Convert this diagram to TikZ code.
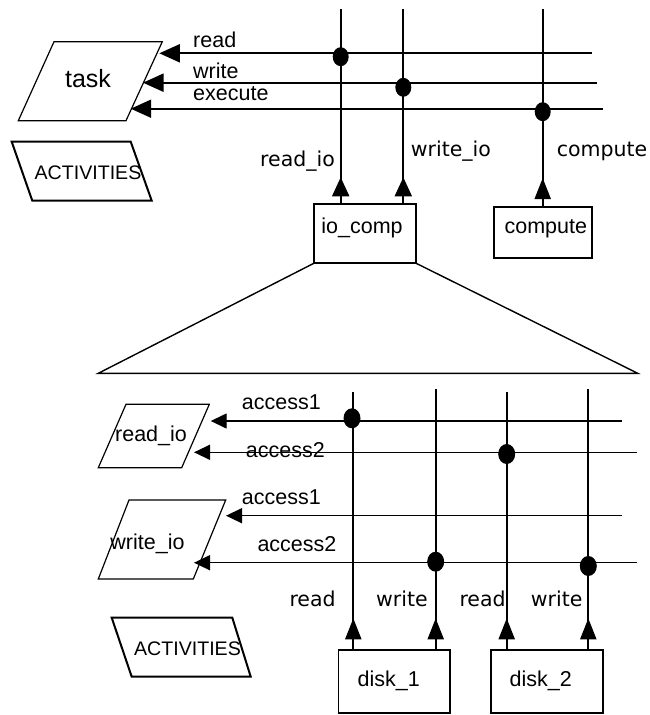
\documentclass[tikz,border=0pt]{standalone}
\usepackage{fontspec}
\setmainfont{Liberation Sans}
\newfontfamily\dvsans{DejaVu Sans}
\usetikzlibrary{arrows.meta,shapes.geometric}

\begin{document}
\begin{tikzpicture}[x=1pt,y=-1pt,
  wire/.style={line width=2pt},
  busline/.style={line width=1.4pt},
  outline/.style={line width=1.2pt},
  boldoutline/.style={line width=2pt},
  box/.style={draw, line width=1.7pt, inner sep=0pt},
  lefttip/.style={-{Triangle[length=20.5pt,width=18pt]}},
  smalltip/.style={-{Triangle[length=16pt,width=15pt]}},
  uptip/.style={-{Triangle[length=19pt,width=17pt]}},
  lowtip/.style={-{Triangle[length=21pt,width=16pt]}},
  junction/.style={ellipse, fill, inner sep=0pt, minimum width=16pt, minimum height=19pt},
  bigjunction/.style={junction, minimum width=17pt, minimum height=20pt},
  lbl/.style={inner sep=0pt, anchor=base west, font=\fontsize{21.5}{24}\selectfont},
  vlbl/.style={inner sep=0pt, anchor=base west, font=\dvsans\fontsize{20.5}{24}\selectfont},
  ctext/.style={inner sep=0pt, anchor=base, font=\fontsize{21.5}{24}\selectfont},
  acttext/.style={inner sep=0pt, anchor=base, font=\fontsize{19.6}{22}\selectfont},
]
\useasboundingbox (0,0) rectangle (649,715);

% ---------------- upper level ----------------
% task parallelogram
\draw[outline] (54,41.7) -- (162.3,41.7) -- (126,120.7) -- (18.3,120.7) -- cycle;
\node[inner sep=0pt, anchor=base, font=\fontsize{25}{28}\selectfont] (task) at (88,87.7) {task};
% activities marker
\draw[boldoutline] (11.7,141.7) -- (130.7,141.7) -- (151.7,200.7) -- (32.3,200.7) -- cycle;
\node[acttext] (act1) at (88,179) {ACTIVITIES};

% edge points of the task shape
\coordinate (tRead) at (159.3,53.3);
\coordinate (tWrite) at (143,82.7);
\coordinate (tExec) at (130.7,108.7);
\coordinate (eRead) at (591.7,53.3);
\coordinate (eWrite) at (596.7,82.7);
\coordinate (eExec) at (602.7,108.7);

\draw[wire, lefttip] (eRead) -- (tRead);
\draw[wire, lefttip] (eWrite) -- (tWrite);
\draw[wire, lefttip] (eExec) -- (tExec);
\node[lbl] (lRead) at (193,47.7) {read};
\node[lbl] (lWrite) at (193,78) {write};
\node[lbl] (lExec) at (193,100.7) {execute};

% components
\node[box, minimum width=101.4pt, minimum height=58.7pt] (iocomp) at (365,233.3) {};
\node[ctext] (iocompT) at (362,233.5) {io\_comp};
\node[box, minimum width=97.4pt, minimum height=51.6pt] (compute) at (543,232.5) {};
\node[ctext] (computeT) at (545.8,233.3) {compute};

% vertical ports
\coordinate (vA) at (340.7,9.3);
\coordinate (vB) at (403.3,9.3);
\coordinate (vC) at (542.7,9.3);
\coordinate (aA) at (340.7,177.3);
\coordinate (aB) at (403.3,177.3);
\coordinate (aC) at (542.7,178);

\draw[wire] (iocomp.north -| vA) -- (vA);
\draw[wire] (iocomp.north -| vB) -- (vB);
\draw[wire] (compute.north -| vC) -- (vC);
\draw[wire, uptip] (iocomp.north -| vA) -- (aA);
\draw[wire, uptip] (iocomp.north -| vB) -- (aB);
\draw[wire, lowtip] (compute.north -| vC) -- (aC);

\node[vlbl] (lReadIo) at (260,166) {read\_io};
\node[vlbl] (lWriteIo) at (410.7,156.7) {write\_io};
\node[vlbl] (lCompute) at (556.7,156.7) {compute};

\node[junction] (j1) at (340.7,56.7) {};
\node[junction] (j2) at (403.3,87.3) {};
\node[junction] (j3) at (542.7,111.7) {};

% ---------------- refinement of io_comp ----------------
\coordinate (trL) at (98.3,373.3);
\coordinate (trR) at (637.7,373.3);
\draw[line width=1.4pt] (iocomp.south west) -- (trL) -- (trR) -- (iocomp.south east);

% read_io and write_io parallelograms
\draw[outline] (126,404.3) -- (209.3,404.3) -- (181.7,467.7) -- (98.3,467.7) -- cycle;
\node[ctext] (readio) at (151,441) {read\_io};
\draw[outline] (129,500) -- (225.7,500) -- (193.3,579) -- (98.3,579) -- cycle;
\node[ctext] (writeio) at (147.5,549) {write\_io};
% activities marker
\draw[boldoutline] (111.7,617.7) -- (232.3,617.7) -- (250.7,676.7) -- (131.7,676.7) -- cycle;
\node[acttext] (act2) at (187.5,655) {ACTIVITIES};

% access lines
\coordinate (rA1) at (210.7,421);
\coordinate (rA2) at (194,452.3);
\coordinate (wA1) at (226,515.7);
\coordinate (wA2) at (194,562.7);
\coordinate (erA1) at (621.7,421);
\coordinate (erA2) at (636.7,452.3);
\coordinate (ewA1) at (621.7,515.7);
\coordinate (ewA2) at (636.7,562.7);

\draw[busline, smalltip] (erA1) -- (rA1);
\draw[busline, smalltip] (erA2) -- (rA2);
\draw[busline, smalltip] (ewA1) -- (wA1);
\draw[busline, smalltip] (ewA2) -- (wA2);

\node[lbl] (la1) at (241.7,409) {access1};
\node[lbl] (la2) at (245.7,457) {access2};
\node[lbl] (la3) at (241.7,504) {access1};
\node[lbl] (la4) at (257.3,551.7) {access2};

% disks
\node[box, minimum width=111.7pt, minimum height=62.7pt] (disk1) at (394.2,681.3) {};
\node[ctext] (disk1T) at (388.7,686) {disk\_1};
\node[box, minimum width=112pt, minimum height=62.7pt] (disk2) at (546.7,681.3) {};
\node[ctext] (disk2T) at (540.8,686) {disk\_2};

\coordinate (d1r) at (353.3,391.7);
\coordinate (d1w) at (435.7,389.3);
\coordinate (d2r) at (506.7,391.7);
\coordinate (d2w) at (588.3,389.3);
\coordinate (t1r) at (353.3,618.3);
\coordinate (t1w) at (435.7,618.3);
\coordinate (t2r) at (506.7,618.3);
\coordinate (t2w) at (588.3,618.3);

\draw[wire] (disk1.north -| d1r) -- (d1r);
\draw[wire] (disk1.north -| d1w) -- (d1w);
\draw[wire] (disk2.north -| d2r) -- (d2r);
\draw[wire] (disk2.north -| d2w) -- (d2w);
\draw[wire, lowtip] (disk1.north -| d1r) -- (t1r);
\draw[wire, lowtip] (disk1.north -| d1w) -- (t1w);
\draw[wire, lowtip] (disk2.north -| d2r) -- (t2r);
\draw[wire, lowtip] (disk2.north -| d2w) -- (t2w);

\node[vlbl] (ld1r) at (289.3,606.7) {read};
\node[vlbl] (ld1w) at (376,606.7) {write};
\node[vlbl] (ld2r) at (459.3,606.7) {read};
\node[vlbl] (ld2w) at (530.7,606.7) {write};

\node[bigjunction] (k1) at (352,418.3) {};
\node[bigjunction] (k2) at (435.7,561.7) {};
\node[bigjunction] (k3) at (506.7,454) {};
\node[bigjunction] (k4) at (588.3,566) {};
\end{tikzpicture}
\end{document}
